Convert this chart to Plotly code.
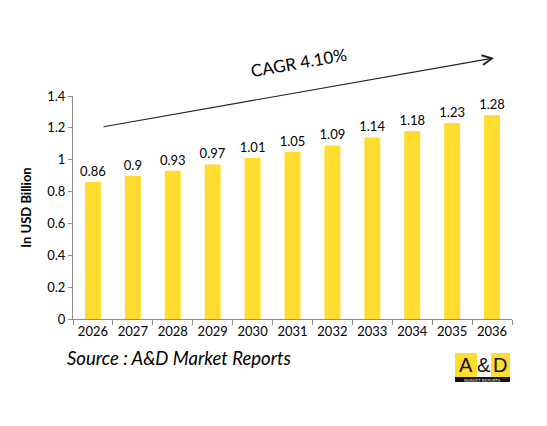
import plotly.graph_objects as go

years = ['2026', '2027', '2028', '2029', '2030', '2031', '2032', '2033', '2034', '2035', '2036']
values = [0.86, 0.9, 0.93, 0.97, 1.01, 1.05, 1.09, 1.14, 1.18, 1.23, 1.28]
labels = ['0.86', '0.9', '0.93', '0.97', '1.01', '1.05', '1.09', '1.14', '1.18', '1.23', '1.28']

# page body has an 8px margin, so reference pixels are offset by 8
OFF = 8
# plot area in reference pixels: x 73..512, y 96..319
L, R, T, B = 73, 512, 96, 319
W, H = 547 - OFF, 426 - OFF
def px(x):
    return (x - L) / (R - L)
def py(y):
    return (B - y) / (B - T)

font = 'Lato'

fig = go.Figure()
fig.add_trace(go.Bar(
    x=years, y=values,
    text=labels, textposition='outside', constraintext='none',
    textfont=dict(size=13, color='#000000', family=font),
    marker=dict(color='#FFDC2E', line=dict(width=0)),
    width=0.4, cliponaxis=False,
))

fig.update_layout(
    width=W, height=H,
    margin=dict(l=L - OFF, r=547 - R, t=T - OFF, b=426 - B, autoexpand=False),
    plot_bgcolor='white', paper_bgcolor='white',
    showlegend=False,
    font=dict(family=font, color='#000000'),
    xaxis=dict(
        type='category', showline=True, linecolor='#8c8c8c', linewidth=1,
        ticks='outside', tickson='boundaries', ticklen=5, tickcolor='#8c8c8c',
        tickfont=dict(size=13, family=font), showgrid=False, automargin=False,
    ),
    yaxis=dict(
        range=[0, 1.4], dtick=0.2, showline=True, linecolor='#8c8c8c', linewidth=1,
        ticks='outside', ticklen=4, tickcolor='#8c8c8c', showgrid=False,
        tickfont=dict(size=13, family=font), tickformat='~g', automargin=False,
        title=dict(text='<b>In USD Billion</b>', font=dict(size=13, family=font), standoff=12),
        zeroline=False,
    ),
)

# CAGR arrow
fig.add_annotation(
    xref='x domain', yref='y domain', axref='x domain', ayref='y domain',
    x=px(494), y=py(58), ax=px(102), ay=py(127),
    text='', showarrow=True, arrowhead=5, arrowsize=1.6, arrowwidth=1.2, arrowcolor='#222222',
)
fig.add_annotation(
    xref='paper', yref='paper', x=px(298), y=py(62), xanchor='center', yanchor='middle',
    text='CAGR 4.10%', showarrow=False, textangle=-10,
    font=dict(size=17, family=font, color='#000000'),
)

# source
fig.add_annotation(
    xref='paper', yref='paper', x=px(65), y=py(358),
    xanchor='left', yanchor='middle',
    text='<i>Source : A&D Market Reports</i>', showarrow=False,
    font=dict(size=18.5, family=font, color='#000000'),
)

# logo
fig.add_shape(type='rect', xref='paper', yref='paper', x0=px(455), x1=px(510), y0=py(377), y1=py(353),
              fillcolor='#FFDC2E', line=dict(width=0), layer='above')
fig.add_shape(type='rect', xref='paper', yref='paper', x0=px(477), x1=px(491), y0=py(377), y1=py(353),
              fillcolor='white', line=dict(width=0), layer='above')
fig.add_shape(type='rect', xref='paper', yref='paper', x0=px(455), x1=px(510), y0=py(382), y1=py(377),
              fillcolor='#111111', line=dict(width=0), layer='above')
for t, cx in [('A', 466), ('&', 484), ('D', 500)]:
    fig.add_annotation(xref='paper', yref='paper', x=px(cx), y=py(364.5), text=t,
                       xanchor='center', yanchor='middle', showarrow=False,
                       font=dict(size=20, family='Liberation Sans', color='#111111'))
fig.add_annotation(xref='paper', yref='paper', x=px(482.5), y=py(380), text='MARKET REPORTS',
                   xanchor='center', yanchor='middle', showarrow=False,
                   font=dict(size=4, family='DejaVu Sans', color='#dddddd'))

fig.write_html('out.html')
